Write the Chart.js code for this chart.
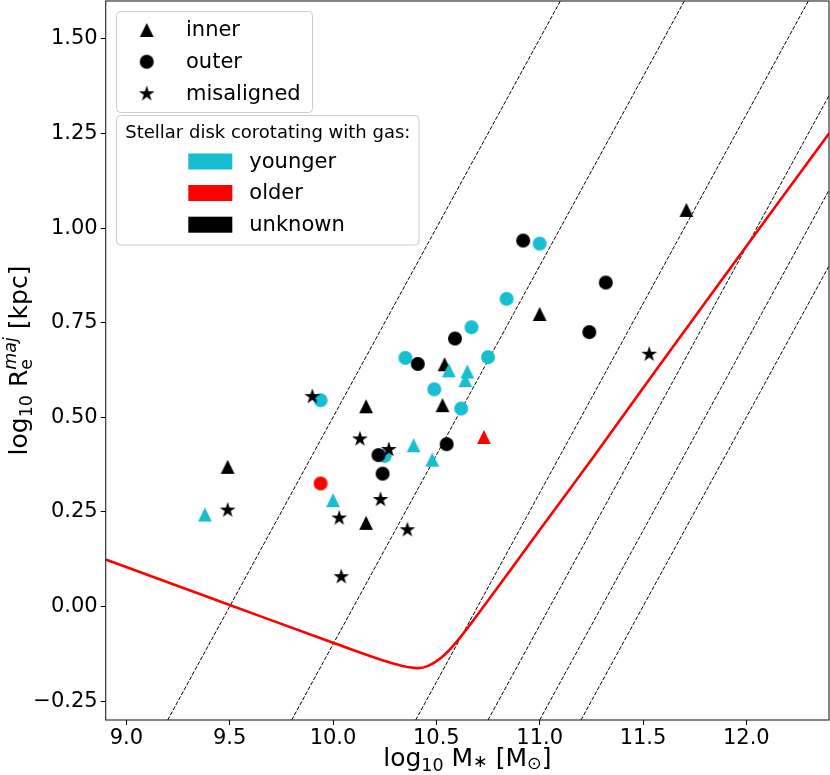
<!DOCTYPE html>
<html>
<head>
<meta charset="utf-8">
<script src="https://cdn.jsdelivr.net/npm/chart.js@4.4.1/dist/chart.umd.min.js"></script>
<style>
  html, body { margin: 0; padding: 0; background: #fff; }
  #wrap { width: 830px; height: 775px; position: relative; }
</style>
</head>
<body>
<div id="wrap"><canvas id="sizeChart"></canvas></div>
<script>
// axis ranges and ticks
const xRange = [8.9, 12.4];
const yRange = [-0.3, 1.6];
const xTicks = [9.0, 9.5, 10.0, 10.5, 11.0, 11.5, 12.0];
const yTicks = [-0.25, 0.0, 0.25, 0.5, 0.75, 1.0, 1.25, 1.5];

// inner (triangles)
const innerYoungerX = [9.38, 10.00, 10.39, 10.48, 10.56, 10.65, 10.64];
const innerYoungerY = [0.243, 0.281, 0.426, 0.388, 0.624, 0.621, 0.598];
const innerOlderX = [10.73];
const innerOlderY = [0.448];
const innerUnknownX = [9.49, 10.16, 10.16, 10.53, 10.54, 11.0, 11.71];
const innerUnknownY = [0.369, 0.529, 0.221, 0.532, 0.640, 0.773, 1.048];

// outer (circles)
const outerYoungerX = [9.94, 10.25, 10.62, 10.49, 10.35, 10.67, 10.75, 10.84, 11.0];
const outerYoungerY = [0.545, 0.398, 0.523, 0.574, 0.657, 0.738, 0.659, 0.813, 0.959];
const outerOlderX = [9.94];
const outerOlderY = [0.325];
const outerUnknownX = [10.22, 10.24, 10.55, 10.41, 10.59, 10.92, 11.32, 11.24];
const outerUnknownY = [0.400, 0.351, 0.429, 0.641, 0.708, 0.967, 0.856, 0.725];

// misaligned (stars)
const misalignedX = [9.49, 9.90, 10.03, 10.04, 10.13, 10.27, 10.23, 10.36, 11.53];
const misalignedY = [0.256, 0.556, 0.235, 0.080, 0.444, 0.416, 0.284, 0.204, 0.668];

// red limit curve
const limitX = [8.9, 9.5, 10.0, 10.2, 10.3, 10.36, 10.41, 10.46, 10.52, 10.6, 10.76, 11.0, 11.26, 11.53, 11.87, 12.4];
const limitY = [0.124, 0.004, -0.096, -0.135, -0.152, -0.160, -0.163, -0.157, -0.137, -0.092, 0.023, 0.202, 0.395, 0.600, 0.855, 1.250];

// dashed guide lines (start and end points)
const guideStartX = [9.2, 9.8, 10.4, 10.75, 11.0, 11.2];
const guideStartY = [-0.3, -0.3, -0.3, -0.3, -0.3, -0.3];
const guideEndX = [11.1, 11.7, 12.3, 12.4, 12.4, 12.4];
const guideEndY = [1.6, 1.6, 1.6, 1.35, 1.1, 0.9];

const CYAN = '#17becf', RED = '#ff0000', BLACK = '#000000';
const FONT = "'DejaVu Sans', sans-serif";

function makeMarker(shape, color) {
    const S = 20, c = S / 2;
    const cv = document.createElement('canvas');
    cv.width = S; cv.height = S;
    const g = cv.getContext('2d');
    g.fillStyle = color;
    g.beginPath();
    if (shape === 'circle') {
        g.arc(c, c, 7, 0, Math.PI * 2);
    } else if (shape === 'triangle') {
        const r = 6.9;
        g.moveTo(c, c - r); g.lineTo(c + r, c + r); g.lineTo(c - r, c + r); g.closePath();
    } else {
        const r = 8.3;
        for (let i = 0; i < 10; i++) {
            const a = Math.PI / 2 + i * Math.PI / 5;
            const rr = i % 2 ? r * 0.381966 : r;
            const px = c + rr * Math.cos(a), py = c + 0.6 - rr * Math.sin(a);
            if (i) g.lineTo(px, py); else g.moveTo(px, py);
        }
        g.closePath();
    }
    g.fill();
    return cv;
}

const mk = {
    triCyan: makeMarker('triangle', CYAN), triRed: makeMarker('triangle', RED), triBlack: makeMarker('triangle', BLACK),
    cirCyan: makeMarker('circle', CYAN), cirRed: makeMarker('circle', RED), cirBlack: makeMarker('circle', BLACK),
    star: makeMarker('star', BLACK)
};

function pts(xs, ys) { return xs.map((x, i) => ({ x: x, y: ys[i] })); }

function scatterSet(label, xs, ys, marker) {
    return { label: label, data: pts(xs, ys), pointStyle: marker, pointRadius: 7, pointHoverRadius: 7, showLine: false };
}

// first dataset ends up on top
const datasets = [
    scatterSet('inner younger', innerYoungerX, innerYoungerY, mk.triCyan),
    scatterSet('inner older', innerOlderX, innerOlderY, mk.triRed),
    scatterSet('outer older', outerOlderX, outerOlderY, mk.cirRed),
    scatterSet('misaligned', misalignedX, misalignedY, mk.star),
    scatterSet('outer unknown', outerUnknownX, outerUnknownY, mk.cirBlack),
    scatterSet('outer younger', outerYoungerX, outerYoungerY, mk.cirCyan),
    scatterSet('inner unknown', innerUnknownX, innerUnknownY, mk.triBlack),
    {
        label: 'limit', data: pts(limitX, limitY), showLine: true, pointRadius: 0,
        borderColor: RED, borderWidth: 2.6, cubicInterpolationMode: 'monotone', fill: false
    }
];
guideStartX.forEach((x0, i) => {
    datasets.push({
        label: 'guide' + i,
        data: [{ x: x0, y: guideStartY[i] }, { x: guideEndX[i], y: guideEndY[i] }],
        showLine: true, pointRadius: 0, borderColor: BLACK, borderWidth: 1,
        borderDash: [4, 1.7], fill: false
    });
});

// draws a string made of pieces (sub/superscripts)
function drawRich(ctx, parts, base, cx, baseline) {
    const widths = parts.map(p => {
        if (p.stack) {
            return Math.max(...p.stack.map(q => { ctx.font = (q.italic ? 'italic ' : '') + (base * q.s) + 'px ' + FONT; return ctx.measureText(q.t).width; }));
        }
        ctx.font = (p.italic ? 'italic ' : '') + (base * (p.s || 1)) + 'px ' + FONT;
        return ctx.measureText(p.t).width;
    });
    const total = widths.reduce((a, b) => a + b, 0);
    let x = cx - total / 2;
    ctx.textAlign = 'left';
    ctx.textBaseline = 'alphabetic';
    parts.forEach((p, i) => {
        const list = p.stack || [p];
        list.forEach(q => {
            ctx.font = (q.italic ? 'italic ' : '') + (base * (q.s || 1)) + 'px ' + FONT;
            ctx.fillText(q.t, x, baseline + (q.dy || 0));
        });
        x += widths[i];
    });
}

const decorPlugin = {
    id: 'decor',
    afterDraw(chart) {
        const ctx = chart.ctx;
        const a = chart.chartArea;
        ctx.save();
        // frame
        ctx.strokeStyle = '#222';
        ctx.lineWidth = 1.1;
        ctx.strokeRect(a.left, a.top, a.right - a.left, a.bottom - a.top);
        ctx.fillStyle = '#000';

        // x axis title
        drawRich(ctx, [
            { t: 'log' }, { t: '10', s: 0.7, dy: 5 }, { t: ' M' }, { t: '\u2217', s: 0.7, dy: 1 },
            { t: ' [M' }, { t: '\u2299', s: 0.7, dy: 3 }, { t: ']' }
        ], 25, (a.left + a.right) / 2, 766);

        // y axis title
        ctx.save();
        ctx.translate(27, (a.top + a.bottom) / 2);
        ctx.rotate(-Math.PI / 2);
        drawRich(ctx, [
            { t: 'log' }, { t: '10', s: 0.7, dy: 5 }, { t: ' R' },
            { stack: [{ t: 'e', s: 0.7, dy: 5 }, { t: 'maj', s: 0.7, dy: -11, italic: true }] },
            { t: ' [kpc]' }
        ], 25, 0, 0);
        ctx.restore();

        // legend boxes
        function box(x0, y0, x1, y1) {
            ctx.beginPath();
            ctx.roundRect(x0, y0, x1 - x0, y1 - y0, 4);
            ctx.fillStyle = 'rgba(255,255,255,0.8)';
            ctx.fill();
            ctx.strokeStyle = '#cccccc';
            ctx.lineWidth = 1;
            ctx.stroke();
        }
        box(116.5, 11.5, 312.5, 112.5);
        box(116.5, 115.5, 419, 245);

        ctx.fillStyle = '#000';
        ctx.textAlign = 'left';
        ctx.textBaseline = 'middle';
        ctx.font = '21px ' + FONT;
        const shapeRows = [[mk.triBlack, 'inner', 30], [mk.cirBlack, 'outer', 61.7], [mk.star, 'misaligned', 93.3]];
        shapeRows.forEach(r => {
            ctx.drawImage(r[0], 146.7 - 10, r[2] - 10);
            ctx.fillText(r[1], 186, r[2] + 1);
        });

        ctx.font = '18px ' + FONT;
        ctx.textAlign = 'center';
        ctx.fillText('Stellar disk corotating with gas:', 267.8, 133);

        ctx.textAlign = 'left';
        ctx.font = '21px ' + FONT;
        const colorRows = [[CYAN, 'younger', 161.5], [RED, 'older', 193], [BLACK, 'unknown', 224.7]];
        colorRows.forEach(r => {
            ctx.fillStyle = r[0];
            ctx.fillRect(188.3, r[2] - 8, 44, 16);
            ctx.fillStyle = '#000';
            ctx.fillText(r[1], 249.3, r[2] + 1);
        });
        ctx.restore();
    }
};

const tickFont = { family: FONT, size: 21 };

function noPad(s) {
    s.paddingTop = 0; s.paddingBottom = 0; s.paddingLeft = 0; s.paddingRight = 0;
}

new Chart(document.getElementById('sizeChart').getContext('2d'), {
    type: 'scatter',
    data: { datasets: datasets },
    options: {
        responsive: true,
        maintainAspectRatio: false,
        animation: false,
        layout: { autoPadding: false, padding: { top: 1, right: 1, left: 0, bottom: 0 } },
        plugins: { legend: { display: false }, tooltip: { enabled: false } },
        scales: {
            x: {
                type: 'linear', min: xRange[0], max: xRange[1],
                afterBuildTicks: s => { s.ticks = xTicks.map(v => ({ value: v })); },
                afterFit: s => { s.height = 55; noPad(s); },
                grid: { display: true, drawOnChartArea: false, drawTicks: true, tickLength: 5, tickColor: '#000', tickWidth: 1 },
                border: { display: false },
                ticks: {
                    padding: 1, color: '#000', font: tickFont, maxRotation: 0,
                    callback: v => v.toFixed(1)
                }
            },
            y: {
                type: 'linear', min: yRange[0], max: yRange[1],
                afterBuildTicks: s => { s.ticks = yTicks.map(v => ({ value: v })); },
                afterFit: s => { s.width = 105.7; noPad(s); },
                grid: { display: true, drawOnChartArea: false, drawTicks: true, tickLength: 5, tickColor: '#000', tickWidth: 1 },
                border: { display: false },
                ticks: {
                    padding: 3, color: '#000', font: tickFont,
                    callback: v => v.toFixed(2).replace('-', '\u2212')
                }
            }
        }
    },
    plugins: [decorPlugin]
});
</script>
</body>
</html>
